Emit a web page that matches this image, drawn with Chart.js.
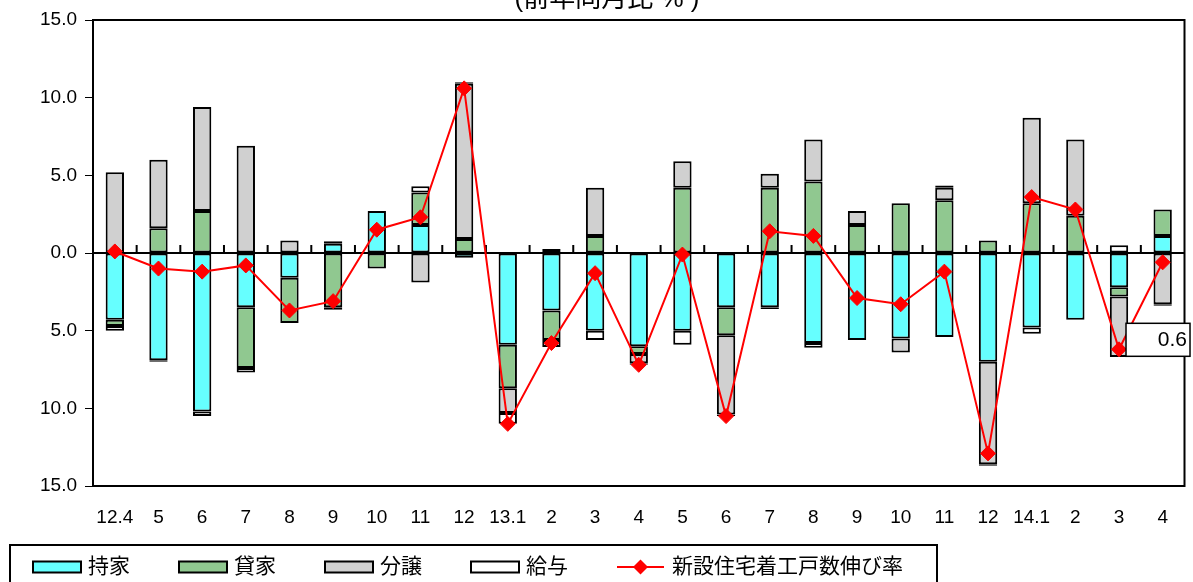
<!DOCTYPE html>
<html>
<head>
<meta charset="utf-8">
<script src="https://cdn.jsdelivr.net/npm/chart.js@4.4.0/dist/chart.umd.min.js"></script>
<style>
html, body { margin: 0; padding: 0; background: #fff; }
#wrap { position: relative; width: 1193px; height: 582px; }
</style>
</head>
<body>
<div id="wrap"><canvas id="chart"></canvas></div>
<script>
// 月 (12.4 = 2012年4月)
var months = ['12.4','5','6','7','8','9','10','11','12','13.1','2','3','4','5','6','7','8','9','10','11','12','14.1','2','3','4'];

// 寄与度 (%)
var mochiie = [-4.3,-6.9,-10.2,-3.5,-1.6,0.6,2.7,1.8,-0.3,-5.9,-3.7,-5.0,-6.0,-5.0,-3.5,-3.5,-5.8,-5.6,-5.5,-5.4,-7.0,-4.8,-4.3,-2.2,1.1];
var kashiya = [-0.4,1.6,2.7,-3.9,-2.9,-3.5,-1.0,2.1,0.9,-2.8,-1.9,1.1,-0.5,4.2,-1.8,4.2,4.6,1.8,3.2,3.4,0.8,3.2,2.4,-0.6,1.7];
var bunjo   = [5.2,4.4,6.7,6.9,0.8,0.15,0,-1.9,10.0,-1.6,-0.45,3.1,-0.6,1.7,-5.1,0.9,2.7,0.9,-0.9,0.8,-6.6,5.5,4.9,-3.9,-3.3];
var kyuyo   = [-0.3,-0.1,-0.3,-0.3,0,-0.15,0,0.4,0.1,-0.7,0.25,-0.6,-0.1,-0.9,-0.1,-0.1,-0.3,0,0,0.15,-0.1,-0.4,0,0.5,-0.1];

// 新設住宅着工戸数伸び率 (%)
var growth = [0.1,-1.0,-1.2,-0.8,-3.7,-3.1,1.5,2.3,10.6,-11.0,-5.8,-1.3,-7.2,-0.1,-10.5,1.4,1.1,-2.9,-3.3,-1.2,-12.9,3.6,2.8,-6.2,-0.6];

var yTicks = [-15, -10, -5, 0, 5, 10, 15];
var titleText = '(前年同月比 % )';
var noteIndex = 23;
var noteText = '0.6';

var FONT = "'Liberation Sans', 'Noto Sans CJK JP', sans-serif";

var framePlugin = {
  id: 'frame',
  beforeDatasetsDraw: function(chart) {
    var ctx = chart.ctx, a = chart.chartArea;
    var x = chart.scales.x, y = chart.scales.y;
    var y0 = y.getPixelForValue(0);
    ctx.save();
    ctx.strokeStyle = '#000';
    ctx.lineWidth = 2;
    ctx.beginPath();
    ctx.moveTo(a.left, y0);
    ctx.lineTo(a.right, y0);
    // ticks between categories on the zero line
    for (var i = 1; i < months.length; i++) {
      var px = (x.getPixelForValue(i - 1) + x.getPixelForValue(i)) / 2;
      ctx.moveTo(px, y0);
      ctx.lineTo(px, y0 - 8);
    }
    ctx.stroke();
    ctx.restore();
  },
  afterDraw: function(chart) {
    var ctx = chart.ctx, a = chart.chartArea;
    ctx.save();
    ctx.strokeStyle = '#000';
    ctx.lineWidth = 2;
    ctx.strokeRect(a.left, a.top, a.right - a.left, a.bottom - a.top);

    // title, cut at the top edge
    ctx.fillStyle = '#000';
    ctx.font = '26px ' + FONT;
    ctx.textAlign = 'center';
    ctx.textBaseline = 'alphabetic';
    ctx.fillText(titleText, 607, 7);

    // legend
    ctx.lineWidth = 2;
    ctx.strokeRect(10, 545, 927, 60);
    ctx.font = '21px ' + FONT;
    ctx.textAlign = 'left';
    ctx.textBaseline = 'middle';
    chart.data.datasets.forEach(function(ds, i) {
      var lx = 33 + i * 146, ly = 567;
      if (ds.type === 'line') {
        ctx.strokeStyle = ds.borderColor;
        ctx.lineWidth = 2;
        ctx.beginPath();
        ctx.moveTo(lx, ly);
        ctx.lineTo(lx + 47, ly);
        ctx.stroke();
        ctx.fillStyle = ds.pointBackgroundColor;
        ctx.beginPath();
        ctx.moveTo(lx + 23.5, ly - 7.5);
        ctx.lineTo(lx + 31, ly);
        ctx.lineTo(lx + 23.5, ly + 7.5);
        ctx.lineTo(lx + 16, ly);
        ctx.closePath();
        ctx.fill();
      } else {
        ctx.fillStyle = ds.backgroundColor;
        ctx.fillRect(lx, ly - 5.5, 48, 11);
        ctx.strokeStyle = '#000';
        ctx.lineWidth = 2;
        ctx.strokeRect(lx, ly - 5.5, 48, 11);
      }
      ctx.fillStyle = '#000';
      ctx.fillText(ds.label, lx + 55, ly);
    });

    // callout box
    var pt = chart.getDatasetMeta(4).data[noteIndex];
    var bx = pt.x + 7, by = pt.y - 26;
    ctx.fillStyle = '#fff';
    ctx.fillRect(bx, by, 64, 33);
    ctx.strokeStyle = '#000';
    ctx.lineWidth = 1.5;
    ctx.strokeRect(bx, by, 64, 33);
    ctx.fillStyle = '#000';
    ctx.textAlign = 'right';
    ctx.fillText(noteText, bx + 61, by + 17);
    ctx.restore();
  }
};

function barSet(label, data, color) {
  return {
    type: 'bar',
    label: label,
    data: data,
    backgroundColor: color,
    borderColor: '#000',
    borderWidth: 2,
    borderSkipped: false,
    barPercentage: 0.42,
    categoryPercentage: 1.0,
    order: 1
  };
}

var chart = new Chart(document.getElementById('chart'), {
  data: {
    labels: months,
    datasets: [
      barSet('持家', mochiie, '#66ffff'),
      barSet('貸家', kashiya, '#90c890'),
      barSet('分譲', bunjo, '#d0d0d0'),
      barSet('給与', kyuyo, '#ffffff'),
      {
        type: 'line',
        label: '新設住宅着工戸数伸び率',
        data: growth,
        stack: 'line',
        borderColor: '#ff0000',
        borderWidth: 2,
        pointStyle: 'rectRot',
        pointRadius: 7.5,
        pointBackgroundColor: '#ff0000',
        pointBorderColor: '#ff0000',
        pointBorderWidth: 1,
        tension: 0,
        order: 0
      }
    ]
  },
  options: {
    responsive: true,
    maintainAspectRatio: false,
    animation: false,
    layout: { padding: { left: 0, right: 6, top: 20, bottom: 0 } },
    plugins: {
      legend: { display: false },
      title: { display: false },
      tooltip: { enabled: false }
    },
    scales: {
      x: {
        stacked: true,
        grid: { display: false, drawTicks: false },
        border: { display: false },
        ticks: {
          color: '#000',
          font: { family: FONT, size: 19 },
          padding: 20,
          maxRotation: 0,
          autoSkip: false
        },
        afterFit: function(s) { s.height = 96; }
      },
      y: {
        stacked: true,
        min: -15,
        max: 15,
        afterBuildTicks: function(s) {
          s.ticks = yTicks.map(function(v) { return { value: v }; });
        },
        grid: { drawOnChartArea: false, drawTicks: true, tickLength: 8, tickColor: '#000', color: '#000' },
        border: { display: true, color: '#000', width: 2 },
        ticks: {
          color: '#000',
          font: { family: FONT, size: 19 },
          padding: 8,
          callback: function(v) { return Math.abs(v).toFixed(1); }
        },
        afterFit: function(s) { s.width = 93; }
      }
    }
  },
  plugins: [framePlugin]
});
</script>
</body>
</html>
